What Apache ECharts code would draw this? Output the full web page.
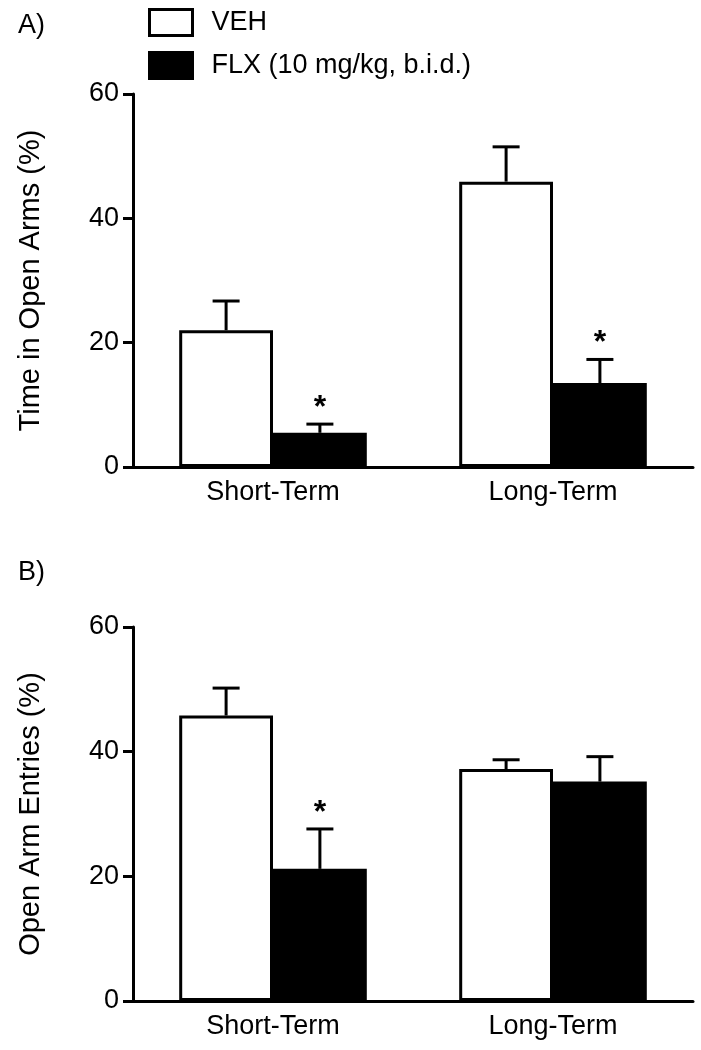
<!DOCTYPE html>
<html>
<head>
<meta charset="utf-8">
<script src="https://cdn.jsdelivr.net/npm/echarts@6/dist/echarts.min.js"></script>
<style>
html,body{margin:0;padding:0;background:#fff;}
#chart{width:701px;height:1050px;}
</style>
</head>
<body>
<div id="chart"></div>
<script>
// ---- data ----
const categories = ['Short-Term', 'Long-Term'];
const seriesNames = ['VEH', 'FLX (10 mg/kg, b.i.d.)'];
const yTicks = [0, 20, 40, 60];

// Panel A: Time in Open Arms (%)
const vehA = [22.0, 45.9];
const vehAErr = [26.7, 51.5];
const flxA = [5.5, 13.5];
const flxAErr = [6.9, 17.3];
const vehAStar = ['', ''];
const flxAStar = ['*', '*'];

// Panel B: Open Arm Entries (%)
const vehB = [45.8, 37.2];
const vehBErr = [50.2, 38.7];
const flxB = [21.2, 35.2];
const flxBErr = [27.6, 39.2];
const vehBStar = ['', ''];
const flxBStar = ['*', ''];

const panelTitles = ['Time in Open Arms (%)', 'Open Arm Entries (%)'];
const panelLetters = ['A)', 'B)'];

// ---- chart ----
const FONT = 'Liberation Sans, Arial, Helvetica, sans-serif';
const BAR_FRAC = 0.335;
const chart = echarts.init(document.getElementById('chart'), null, {renderer: 'canvas'});

function errSeries(gridIdx, means, errs, stars, side) {
  return {
    type: 'custom',
    xAxisIndex: gridIdx, yAxisIndex: gridIdx,
    z: 5,
    silent: true,
    data: means.map((m, i) => [i, m, errs[i]]),
    encode: {x: 0, y: 2},
    renderItem: function (params, api) {
      const i = params.dataIndex;
      const base = api.coord([api.value(0), api.value(1)]);
      const top = api.coord([api.value(0), api.value(2)]);
      const bw = api.size([1, 0])[0] * BAR_FRAC;
      const x = base[0] + side * bw / 2;
      const children = [
        {type: 'line', shape: {x1: x, y1: base[1], x2: x, y2: top[1]}, style: {stroke: '#000', lineWidth: 3}},
        {type: 'line', shape: {x1: x - 13.5, y1: top[1], x2: x + 13.5, y2: top[1]}, style: {stroke: '#000', lineWidth: 3}}
      ];
      if (stars[i]) {
        children.push({type: 'text', style: {text: stars[i], x: x, y: top[1] - 16, align: 'center', verticalAlign: 'middle', fontSize: 32, fontWeight: 'bold', fontFamily: FONT, fill: '#000'}});
      }
      return {type: 'group', children: children};
    }
  };
}

function barSeries(gridIdx, name, values, fill) {
  return {
    type: 'bar', name: name,
    xAxisIndex: gridIdx, yAxisIndex: gridIdx,
    data: values,
    barWidth: (BAR_FRAC * 100) + '%',
    barGap: '0%',
    itemStyle: {color: fill, borderColor: '#000', borderWidth: 3},
    emphasis: {disabled: true},
    silent: true
  };
}

const grids = [
  {left: 133, right: 8, top: 94, height: 373},
  {left: 133, right: 8, top: 627, height: 374}
];

const xAxes = grids.map((g, i) => ({
  type: 'category', gridIndex: i, data: categories,
  axisLine: {lineStyle: {color: '#000', width: 3}},
  axisTick: {alignWithLabel: true, length: 10, lineStyle: {color: '#000', width: 3}},
  axisLabel: {color: '#000', fontSize: 27, fontFamily: FONT, margin: 12}
}));

const yAxes = grids.map((g, i) => ({
  type: 'value', gridIndex: i, min: yTicks[0], max: yTicks[yTicks.length - 1], interval: 20,
  name: panelTitles[i], nameLocation: 'middle', nameGap: 88,
  nameTextStyle: {color: '#000', fontSize: 29, fontFamily: FONT},
  axisLine: {show: true, lineStyle: {color: '#000', width: 3}},
  axisTick: {show: true, length: 10, lineStyle: {color: '#000', width: 3}},
  axisLabel: {color: '#000', fontSize: 27, fontFamily: FONT, margin: 14},
  splitLine: {show: false}
}));

const option = {
  backgroundColor: '#fff',
  animation: false,
  grid: grids,
  xAxis: xAxes,
  yAxis: yAxes,
  legend: {
    left: 143, top: 3, orient: 'vertical',
    itemWidth: 43, itemHeight: 26, itemGap: 14,
    selectedMode: false,
    data: [
      {name: seriesNames[0], icon: 'rect', itemStyle: {color: '#fff', borderColor: '#000', borderWidth: 3}},
      {name: seriesNames[1], icon: 'rect', itemStyle: {color: '#000', borderColor: '#000', borderWidth: 3}}
    ],
    textStyle: {color: '#000', fontSize: 27, fontFamily: FONT, padding: [0, 0, 0, 14], lineHeight: 28}
  },
  graphic: [
    {type: 'text', left: 18, top: 12, style: {text: panelLetters[0], fontSize: 27, fontFamily: FONT, fill: '#000'}},
    {type: 'text', left: 18, top: 559, style: {text: panelLetters[1], fontSize: 27, fontFamily: FONT, fill: '#000'}}
  ],
  series: [
    barSeries(0, seriesNames[0], vehA, '#fff'),
    barSeries(0, seriesNames[1], flxA, '#000'),
    errSeries(0, vehA, vehAErr, vehAStar, -1),
    errSeries(0, flxA, flxAErr, flxAStar, 1),
    barSeries(1, seriesNames[0], vehB, '#fff'),
    barSeries(1, seriesNames[1], flxB, '#000'),
    errSeries(1, vehB, vehBErr, vehBStar, -1),
    errSeries(1, flxB, flxBErr, flxBStar, 1)
  ]
};
chart.setOption(option);
</script>
</body>
</html>
